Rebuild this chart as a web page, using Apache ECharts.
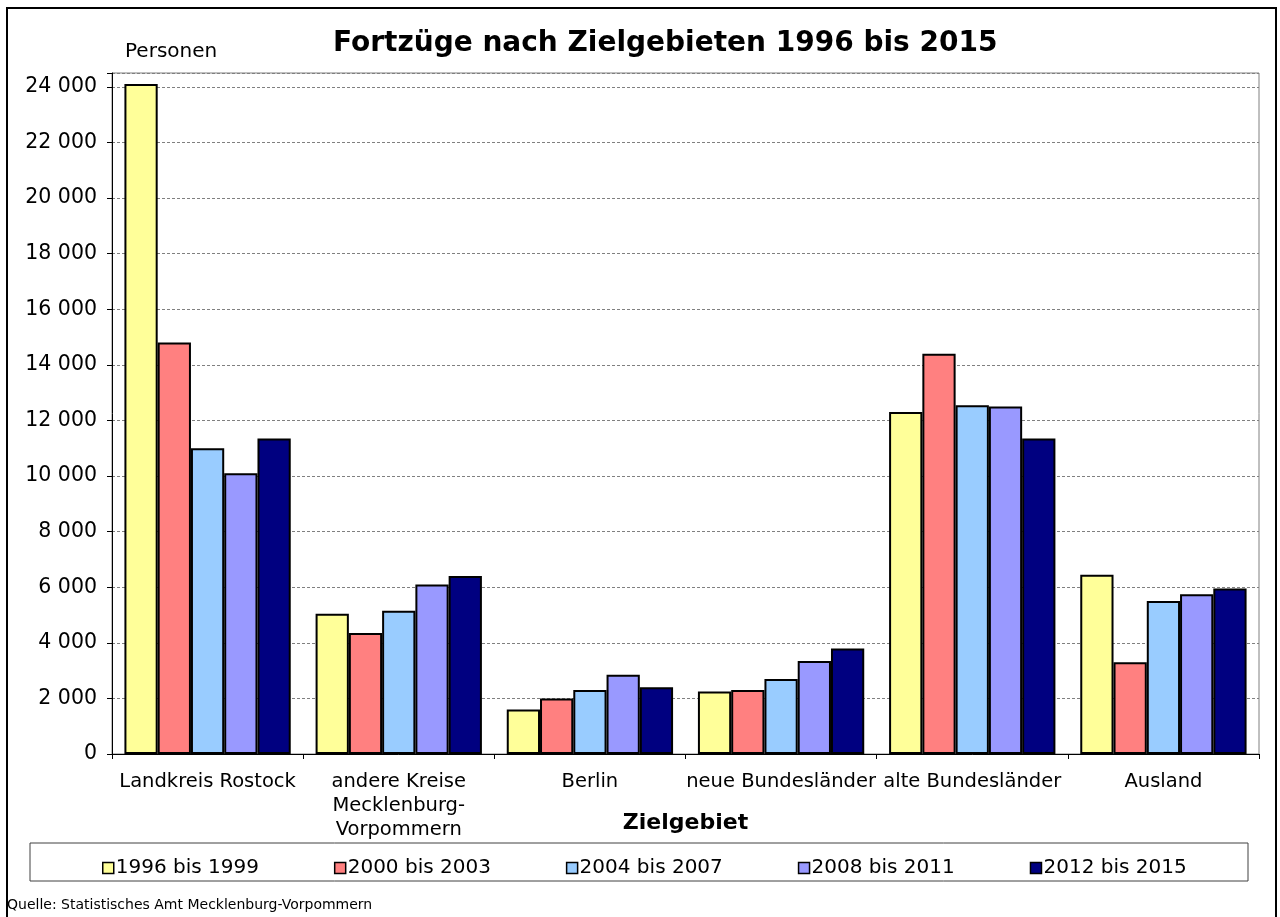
<!DOCTYPE html>
<html>
<head>
<meta charset="utf-8">
<title>Fortzüge nach Zielgebieten 1996 bis 2015</title>
<script src="https://cdn.jsdelivr.net/npm/echarts@6/dist/echarts.min.js"></script>
<style>
  html, body { margin: 0; padding: 0; background: #fff; }
  #chart { width: 1280px; height: 917px; }
</style>
</head>
<body>
<div id="chart"></div>
<script>
// Zielgebiete (x axis)
var categories = [
  "Landkreis Rostock",
  "andere Kreise\nMecklenburg-\nVorpommern",
  "Berlin",
  "neue Bundesländer",
  "alte Bundesländer",
  "Ausland"
];

// Fortzüge je Zeitraum (Personen)
var p1996_1999 = [24100, 5050, 1600, 2250, 12300, 6450];
var p2000_2003 = [14800, 4350, 2000, 2300, 14400, 3300];
var p2004_2007 = [11000, 5150, 2300, 2700, 12550, 5500];
var p2008_2011 = [10100, 6100, 2850, 3350, 12500, 5750];
var p2012_2015 = [11350, 6400, 2400, 3800, 11350, 5950];

var seriesNames = ["1996 bis 1999", "2000 bis 2003", "2004 bis 2007", "2008 bis 2011", "2012 bis 2015"];
var seriesColors = ["#FFFF99", "#FF8080", "#99CCFF", "#9999FF", "#000080"];

var font = "DejaVu Sans, Liberation Sans, sans-serif";

function fmt(v) {
  if (v % 2000 !== 0) return "";
  return String(v).replace(/\B(?=(\d{3})+(?!\d))/g, " ");
}

var allData = [p1996_1999, p2000_2003, p2004_2007, p2008_2011, p2012_2015];
var series = allData.map(function (d, i) {
  return {
    name: seriesNames[i],
    type: "bar",
    data: d,
    barGap: "0%",
    barCategoryGap: "13%",
    itemStyle: {
      color: seriesColors[i],
      borderColor: "#000",
      borderWidth: 2
    }
  };
});

var chart = echarts.init(document.getElementById("chart"));
var option = {
  backgroundColor: "#fff",
  animation: false,
  title: {
    text: "Fortzüge nach Zielgebieten 1996 bis 2015",
    left: 328,
    top: 25,
    textStyle: { fontFamily: font, fontSize: 28, fontWeight: "bold", color: "#000" }
  },
  legend: {
    data: seriesNames,
    top: 853,
    left: 97,
    itemGap: 75,
    itemWidth: 11,
    itemHeight: 11,
    icon: "rect",
    itemStyle: { borderColor: "#000", borderWidth: 1.5 },
    textStyle: { fontFamily: font, fontSize: 20, color: "#000", padding: [0, 0, 0, -3] }
  },
  grid: {
    left: 112,
    right: 21,
    top: 73,
    bottom: 163,
    show: true,
    borderColor: "#808080",
    borderWidth: 1,
    containLabel: false
  },
  xAxis: {
    type: "category",
    data: categories,
    name: "Zielgebiet",
    nameLocation: "middle",
    nameGap: 58,
    nameMoveOverlap: false,
    nameTextStyle: { fontFamily: font, fontSize: 22, fontWeight: "bold", color: "#000" },
    axisLine: { lineStyle: { color: "#000", width: 1 } },
    axisTick: { show: true, length: 5, lineStyle: { color: "#000" } },
    axisLabel: {
      fontFamily: font,
      fontSize: 19.5,
      color: "#000",
      margin: 16,
      lineHeight: 24,
      interval: 0
    }
  },
  yAxis: {
    type: "value",
    min: 0,
    max: 24500,
    interval: 2000,
    axisLine: { show: true, lineStyle: { color: "#000", width: 1 } },
    axisTick: { show: true, length: 5, lineStyle: { color: "#000" } },
    axisLabel: {
      fontFamily: font,
      fontSize: 20.5,
      color: "#000",
      margin: 15,
      formatter: fmt
    },
    splitLine: {
      show: true,
      lineStyle: { color: "#808080", type: [3, 2], width: 1 }
    }
  },
  graphic: [
    {
      type: "rect",
      shape: { x: 7, y: 8, width: 1269, height: 930 },
      style: { fill: "none", stroke: "#000", lineWidth: 2 },
      silent: true
    },
    {
      type: "rect",
      shape: { x: 30, y: 843, width: 1218, height: 38 },
      style: { fill: "none", stroke: "#404040", lineWidth: 1 },
      silent: true
    },
    {
      type: "text",
      left: 125,
      top: 42,
      style: { text: "Personen", fontFamily: font, fontSize: 20, fill: "#000" }
    },
    {
      type: "text",
      left: 7,
      top: 898,
      style: { text: "Quelle: Statistisches Amt Mecklenburg-Vorpommern", fontFamily: font, fontSize: 14, fill: "#000" }
    }
  ],
  series: series
};
chart.setOption(option);
</script>
</body>
</html>
